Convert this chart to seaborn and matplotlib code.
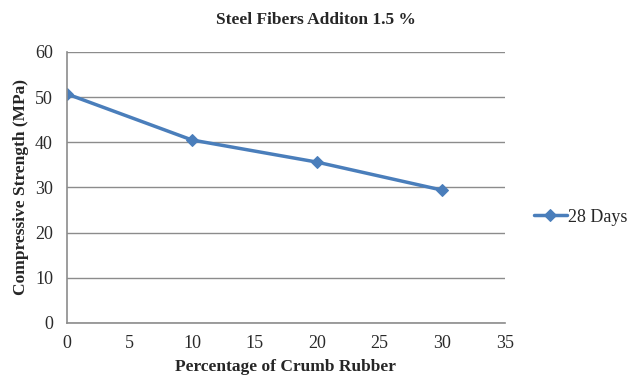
import matplotlib
matplotlib.use("Agg")
import matplotlib.pyplot as plt
import seaborn as sns
import pandas as pd

# Compressive strength at 28 days vs crumb rubber content
rubber_pct = [0, 10, 20, 30]
strength_28d = [50.7, 40.5, 35.6, 29.4]
series_name = "28 Days"
x_ticks = [0, 5, 10, 15, 20, 25, 30, 35]
y_ticks = [0, 10, 20, 30, 40, 50, 60]

sns.set_theme(style="white")
plt.rcParams["font.family"] = ["Liberation Serif", "DejaVu Serif"]

df = pd.DataFrame({"rubber": rubber_pct, "strength": strength_28d, "series": series_name})

fig = plt.figure(figsize=(6.43, 3.76), dpi=100)
ax = fig.add_axes([0.104, 0.141, 0.681, 0.721])

line_color = "#4A7EBB"
sns.lineplot(data=df, x="rubber", y="strength", hue="series", palette=[line_color],
             marker="D", markersize=6, linewidth=2.5, markeredgecolor=line_color,
             ax=ax, legend=True)

ax.set_xlim(0, 35)
ax.set_ylim(0, 60)
ax.set_xticks(x_ticks)
ax.set_yticks(y_ticks)
ax.tick_params(axis="both", labelsize=13, length=0, colors="#2a2a2a")
ax.tick_params(axis="x", pad=9)
ax.tick_params(axis="y", pad=10)
ax.yaxis.grid(True, color="#8c8c8c", linewidth=1)
ax.xaxis.grid(False)
for side in ["top", "right"]:
    ax.spines[side].set_visible(False)
for side in ["left", "bottom"]:
    ax.spines[side].set_color("#8c8c8c")
    ax.spines[side].set_linewidth(1.2)
ax.set_axisbelow(True)

ax.set_xlabel("Percentage of Crumb Rubber", fontsize=12.5, fontweight="bold", labelpad=5)
ax.set_ylabel("Compressive Strength (MPa)", fontsize=12.5, fontweight="bold", labelpad=4)

fig.text(0.492, 0.948, "Steel Fibers Additon 1.5 %", ha="center", va="center",
         fontsize=12.5, fontweight="bold")

handles, labels = ax.get_legend_handles_labels()
ax.legend(handles, labels, loc="center left", bbox_to_anchor=(1.03, 0.39),
          frameon=False, fontsize=13, handlelength=1.8, handletextpad=0.05)

fig.savefig("out.png", dpi=100)
